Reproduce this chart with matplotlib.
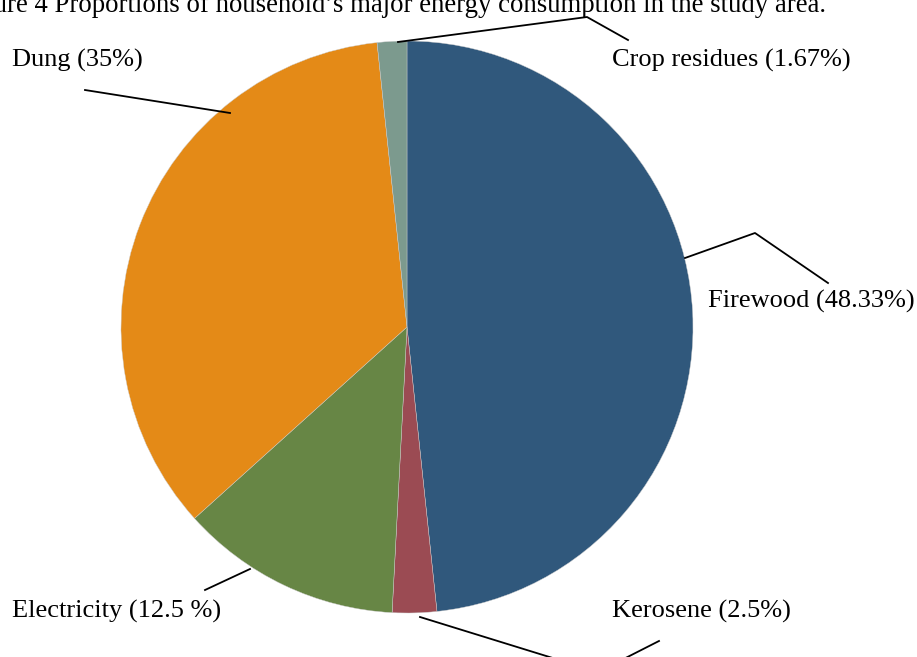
"""
plot.py
Pie chart of household energy consumption shares.
"""

import matplotlib
matplotlib.use("Agg")
import matplotlib.pyplot as plt

# =========================
# DATA
# =========================
categories = ["Firewood", "Kerosene", "Electricity", "Dung", "Crop residues"]
shares = [48.33, 2.5, 12.5, 35, 1.67]
labels = ["Firewood (48.33%)", "Kerosene (2.5%)", "Electricity (12.5 %)",
          "Dung (35%)", "Crop residues (1.67%)"]
colors = ["#30587c", "#9b4b53", "#678645", "#e48a17", "#7c9a8e"]
title = "Figure 4 Proportions of household\u2019s major energy consumption in the study area."

# =========================
# LAYOUT (pixel coords, y measured from top)
# =========================
W, H = 917, 657
CENTER = (407, 327)
RADIUS = 286
FONT = "Liberation Serif"
FS = 19

label_pos = {
    "Firewood": (708, 301),
    "Kerosene": (612, 611),
    "Electricity": (12, 611),
    "Dung": (12, 60),
    "Crop residues": (612, 60),
}
leaders = {
    "Firewood": [(685, 258), (755, 233), (828, 283)],
    "Kerosene": [(420, 617), (598, 672), (659, 641)],
    "Electricity": [(205, 590), (250, 569)],
    "Dung": [(85, 90), (230, 113)],
    "Crop residues": [(398, 42), (587, 17), (628, 40)],
}


def fy(y):
    return H - y


fig = plt.figure(figsize=(W / 100, H / 100), dpi=100)
ax = fig.add_axes([0, 0, 1, 1])

ax.pie(shares, colors=colors, startangle=90, counterclock=False,
       center=(CENTER[0], fy(CENTER[1])), radius=RADIUS,
       wedgeprops=dict(linewidth=0.3, edgecolor="#cccccc"), frame=True)
ax.set_xlim(0, W)
ax.set_ylim(0, H)
ax.set_aspect("equal")
ax.axis("off")

for cat, lab in zip(categories, labels):
    x, y = label_pos[cat]
    ax.text(x, fy(y), lab, fontsize=FS, family=FONT, ha="left", va="center")
    pts = leaders[cat]
    ax.plot([p[0] for p in pts], [fy(p[1]) for p in pts], color="black",
            lw=1.3, clip_on=False)

# caption sits partly outside the figure, as in the source scan
ax.text(826, fy(12), title, fontsize=19.3, family=FONT, ha="right",
        va="baseline")

fig.savefig("out.png", dpi=100)
